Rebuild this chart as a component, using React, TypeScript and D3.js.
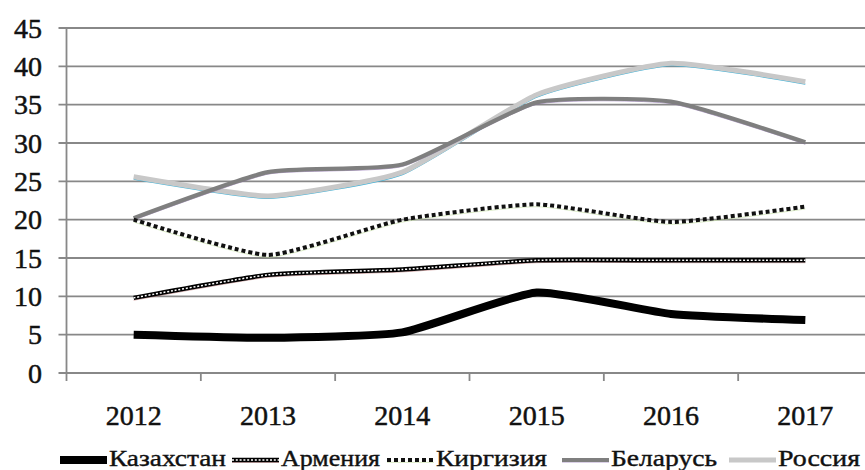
import React from "react";
import * as d3 from "d3";

const years = ["2012", "2013", "2014", "2015", "2016", "2017"];
const kazakhstan = [5.0, 4.6, 5.3, 10.5, 7.7, 6.9];
const armenia = [9.8, 12.8, 13.5, 14.7, 14.7, 14.7];
const kyrgyzstan = [20.0, 15.4, 20.0, 22.0, 19.7, 21.7];
const belarus = [20.2, 26.2, 27.2, 35.3, 35.4, 30.1];
const russia = [25.6, 23.1, 26.2, 36.3, 40.4, 38.0];
const yTicks = [0, 5, 10, 15, 20, 25, 30, 35, 40, 45];
const legendNames = ["Казахстан", "Армения", "Киргизия", "Беларусь", "Россия"];

const W = 865;
const H = 470;
const FONT = "'Liberation Serif', 'Times New Roman', serif";

const x = d3.scaleBand<string>().domain(years).range([66.5, 872.5]);
const y = d3.scaleLinear().domain([0, 45]).range([373, 28]);
const cx = (yr: string) => (x(yr) as number) + x.bandwidth() / 2;

const line = d3
  .line<number>()
  .x((_, i) => cx(years[i]))
  .y((v) => y(v))
  .curve(d3.curveCardinal.tension(0.5));

type StyleKey = "kaz" | "arm" | "kyr" | "bel" | "rus";

// Strokes for each series; the same pieces draw the legend swatches
function Strokes({ kind, d, dy = 0 }: { kind: StyleKey; d: string; dy?: number }) {
  if (kind === "kaz")
    return <path d={d} fill="none" stroke="#000" strokeWidth={8} strokeLinejoin="round" />;
  if (kind === "arm")
    return (
      <g>
        <path d={d} fill="none" stroke="#b06060" strokeWidth={1} transform="translate(0,2.4)" opacity={0.5} />
        <path d={d} fill="none" stroke="#000" strokeWidth={4.4} />
        <path d={d} fill="none" stroke="#fff" strokeWidth={1.5} strokeDasharray="2 1.8" />
      </g>
    );
  if (kind === "kyr")
    return (
      <g>
        <path d={d} fill="none" stroke="#b8d890" strokeWidth={1} transform="translate(0,2.4)" opacity={0.5} />
        <path d={d} fill="none" stroke="#111" strokeWidth={4} strokeDasharray="4 3" />
      </g>
    );
  if (kind === "bel")
    return (
      <g>
        <path d={d} fill="none" stroke="#8a68b0" strokeWidth={1} transform="translate(0,2)" opacity={0.6} />
        <path d={d} fill="none" stroke="#7f7f7f" strokeWidth={4.2} strokeLinejoin="round" />
      </g>
    );
  return (
    <g>
      <path d={d} fill="none" stroke="#3fb2d8" strokeWidth={1.3} transform={`translate(0,${2.4 + dy})`} />
      <path d={d} fill="none" stroke="#c8c8c8" strokeWidth={5} strokeLinejoin="round" />
    </g>
  );
}

const series: { key: StyleKey; values: number[] }[] = [
  { key: "rus", values: russia },
  { key: "bel", values: belarus },
  { key: "kyr", values: kyrgyzstan },
  { key: "arm", values: armenia },
  { key: "kaz", values: kazakhstan },
];

const legendKeys: StyleKey[] = ["kaz", "arm", "kyr", "bel", "rus"];
// swatch start and text width per legend item
const legendLayout = [
  { sx: 60, tw: 117 },
  { sx: 232, tw: 99 },
  { sx: 387, tw: 111 },
  { sx: 562, tw: 106 },
  { sx: 729, tw: 82 },
];

const textStyle: React.CSSProperties = { fontFamily: FONT };

export default function App() {
  const x0 = x.range()[0];
  const x1 = W;
  const legendY = 460;
  return (
    <svg
      width={W}
      height={H}
      viewBox={`0 0 ${W} ${H}`}
      style={{ position: "absolute", left: 0, top: 0, background: "#fff" }}
    >
      <rect width={W} height={H} fill="#fff" />
      {/* gridlines and y ticks */}
      {yTicks.map((t) => (
        <g key={t}>
          <line x1={x0 - 8} x2={x1} y1={y(t)} y2={y(t)} stroke="#888" strokeWidth={1.8} />
          <text
            x={42}
            y={y(t)}
            dy="0.35em"
            textAnchor="end"
            style={textStyle}
            fontSize={28}
            fill="#111"
            stroke="#111"
            strokeWidth={0.5}
          >
            {t}
          </text>
        </g>
      ))}
      {/* y axis */}
      <line x1={x0} x2={x0} y1={y(45)} y2={y(0) + 8} stroke="#888" strokeWidth={1.8} />
      {/* category boundary ticks */}
      {years.map((yr) => (
        <line
          key={"t" + yr}
          x1={(x(yr) as number) + x.bandwidth()}
          x2={(x(yr) as number) + x.bandwidth()}
          y1={y(0)}
          y2={y(0) + 8}
          stroke="#888"
          strokeWidth={1.8}
        />
      ))}
      {/* x labels */}
      {years.map((yr) => (
        <text
          key={"l" + yr}
          x={cx(yr)}
          y={425}
          textAnchor="middle"
          style={textStyle}
          fontSize={28}
          fill="#111"
          stroke="#111"
          strokeWidth={0.5}
        >
          {yr}
        </text>
      ))}
      {/* series */}
      {series.map((s) => (
        <Strokes key={s.key} kind={s.key} d={line(s.values) as string} />
      ))}
      {/* legend */}
      {legendKeys.map((k, i) => {
        const { sx, tw } = legendLayout[i];
        const d = `M${sx},${legendY}L${sx + 47},${legendY}`;
        return (
          <g key={"lg" + k}>
            <Strokes kind={k} d={d} dy={-1.2} />
            <text
              x={sx + 49}
              y={legendY + 6}
              style={textStyle}
              fontSize={23}
              fill="#111"
              stroke="#111"
              strokeWidth={0.4}
              textLength={tw}
              lengthAdjust="spacingAndGlyphs"
            >
              {legendNames[i]}
            </text>
          </g>
        );
      })}
    </svg>
  );
}
